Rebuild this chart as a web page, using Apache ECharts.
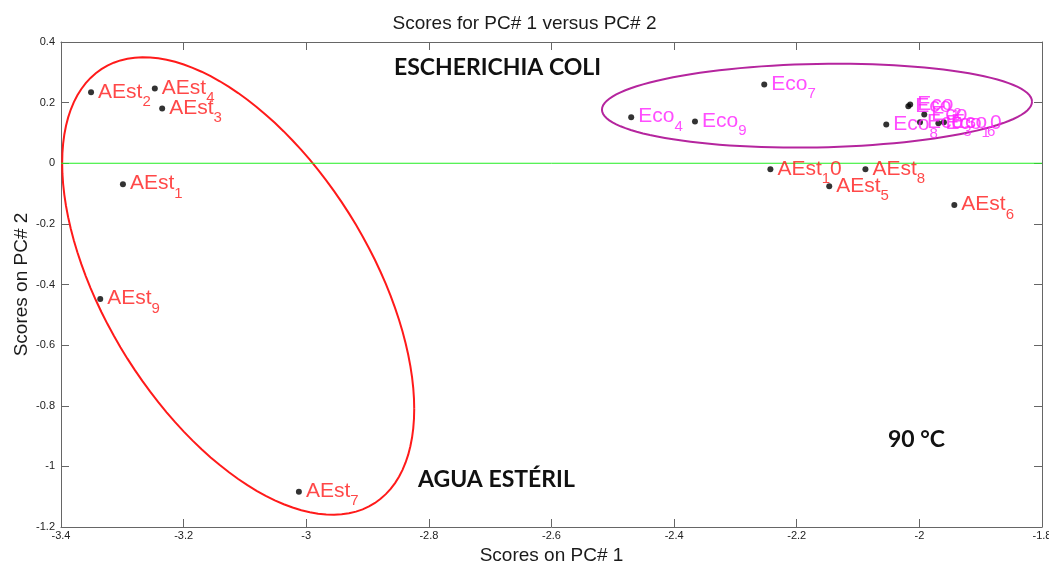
<!DOCTYPE html>
<html>
<head>
<meta charset="utf-8">
<script src="https://cdn.jsdelivr.net/npm/echarts@6/dist/echarts.min.js"></script>
<style>html,body{margin:0;padding:0;background:#fff}#c{width:1049px;height:567px}</style>
</head>
<body>
<div id="c"></div>
<script>
// ---- data ----
const aestSub = ['1','2','3','4','5','6','7','8','9','10'];
const aestX = [-3.299, -3.351, -3.235, -3.247, -2.147, -1.943, -3.012, -2.088, -3.336, -2.243];
const aestY = [-0.069, 0.234, 0.181, 0.247, -0.076, -0.138, -1.084, -0.020, -0.448, -0.020];
const ecoSub = ['1','2','3','4','5','6','7','8','9','10'];
const ecoX = [-2.018, -2.015, -1.999, -2.470, -1.992, -1.960, -2.253, -2.054, -2.366, -1.969];
const ecoY = [0.188, 0.194, 0.135, 0.152, 0.161, 0.135, 0.260, 0.128, 0.138, 0.132];
const zeroLineX = [-3.4, -1.8];
const zeroLineY = [0, 0];
const xTicks = [-3.4, -1.8, 0.2];   // min, max, step
const yTicks = [-1.2, 0.4, 0.2];

// annotation ellipses: centre + two conjugate semi-diameters, in data units
const redEllipse = {c: [-3.111, -0.405], u: [0.2871, -0.4053], v: [0, -0.6366]};
const purpleEllipse = {c: [-2.167, 0.190], u: [0.3507, 0.0132], v: [0, -0.1377]};

const chart = echarts.init(document.getElementById('c'));

function mk(xs, ys, subs) {
  return xs.map((x, i) => ({value: [x, ys[i]], sub: subs[i]}));
}
function labelFmt(base) {
  return p => {
    const s = p.data.sub;
    if (s.length > 1) return `{m|${base}}{s|${s[0]}}{m|${s.slice(1)}}`;
    return `{m|${base}}{s|${s}}`;
  };
}
function rich(color) {
  return {
    m: {fontSize: 21, fontFamily: 'Liberation Sans', color, lineHeight: 22, verticalAlign: 'top'},
    s: {fontSize: 15, fontFamily: 'Liberation Sans', color, lineHeight: 15, verticalAlign: 'top', padding: [13, 0, 0, 0]}
  };
}
function ellipseSeries(e, color) {
  return {
    type: 'custom',
    clip: false,
    silent: true,
    z: 1,
    data: [[e.c[0], e.c[1]]],
    renderItem: (params, api) => {
      const pts = [];
      const N = 120;
      for (let k = 0; k <= N; k++) {
        const t = 2 * Math.PI * k / N;
        const x = e.c[0] + e.u[0] * Math.cos(t) + e.v[0] * Math.sin(t);
        const y = e.c[1] + e.u[1] * Math.cos(t) + e.v[1] * Math.sin(t);
        pts.push(api.coord([x, y]));
      }
      return {type: 'polyline', shape: {points: pts}, style: {stroke: color, lineWidth: 2, fill: null}};
    }
  };
}

const axisFmt = v => String(+(+v).toFixed(1));
const commonX = {type: 'value', min: xTicks[0], max: xTicks[1], interval: xTicks[2]};
const commonY = {type: 'value', min: yTicks[0], max: yTicks[1], interval: yTicks[2]};
const lineStyleAxis = {color: '#666', width: 1};

chart.setOption({
  animation: false,
  backgroundColor: '#fff',
  title: {
    text: 'Scores for PC# 1 versus PC# 2',
    left: 'center', top: 9,
    textStyle: {fontFamily: 'Liberation Sans', fontSize: 19, fontWeight: 'normal', color: '#1a1a1a'}
  },
  grid: {left: 61, right: 7, top: 42, bottom: 40, outerBoundsMode: 'none', containLabel: false},
  xAxis: [
    Object.assign({}, commonX, {
      position: 'bottom',
      name: 'Scores on PC# 1', nameLocation: 'middle', nameGap: 19,
      nameTextStyle: {fontFamily: 'Liberation Sans', fontSize: 19, color: '#1a1a1a'},
      axisLine: {onZero: false, lineStyle: lineStyleAxis},
      axisTick: {inside: true, length: 8, lineStyle: lineStyleAxis},
      axisLabel: {formatter: axisFmt, fontFamily: 'Liberation Sans', fontSize: 11, color: '#222', margin: 3},
      splitLine: {show: false}
    }),
    Object.assign({}, commonX, {
      position: 'top',
      axisLine: {onZero: false, lineStyle: lineStyleAxis},
      axisTick: {inside: true, length: 8, lineStyle: lineStyleAxis},
      axisLabel: {show: false},
      splitLine: {show: false}
    })
  ],
  yAxis: [
    Object.assign({}, commonY, {
      position: 'left',
      name: 'Scores on PC# 2', nameLocation: 'middle', nameGap: 30, nameMoveOverlap: false,
      nameTextStyle: {fontFamily: 'Liberation Sans', fontSize: 19, color: '#1a1a1a'},
      axisLine: {show: true, onZero: false, lineStyle: lineStyleAxis},
      axisTick: {show: true, inside: true, length: 8, lineStyle: lineStyleAxis},
      axisLabel: {formatter: axisFmt, fontFamily: 'Liberation Sans', fontSize: 11, color: '#222', margin: 6},
      splitLine: {show: false}
    }),
    Object.assign({}, commonY, {
      position: 'right',
      axisLine: {show: true, onZero: false, lineStyle: lineStyleAxis},
      axisTick: {show: true, inside: true, length: 8, lineStyle: lineStyleAxis},
      axisLabel: {show: false},
      splitLine: {show: false}
    })
  ],
  series: [
    {
      type: 'line', silent: true, z: 1,
      data: zeroLineX.map((x, i) => [x, zeroLineY[i]]),
      symbol: 'none',
      lineStyle: {color: '#22ee22', width: 1},
      itemStyle: {color: '#22ee22'}
    },
    ellipseSeries(redEllipse, '#ff1a1a'),
    ellipseSeries(purpleEllipse, '#b5259e'),
    {
      type: 'scatter', name: 'AEst', z: 3,
      data: mk(aestX, aestY, aestSub),
      symbol: 'circle', symbolSize: 6,
      itemStyle: {color: '#000'},
      label: {show: true, position: 'right', distance: 4, formatter: labelFmt('AEst'), rich: rich('#ff1a1a')}
    },
    {
      type: 'scatter', name: 'Eco', z: 3,
      data: mk(ecoX, ecoY, ecoSub),
      symbol: 'circle', symbolSize: 6,
      itemStyle: {color: '#000'},
      label: {show: true, position: 'right', distance: 4, formatter: labelFmt('Eco'), rich: rich('#ff22ff')}
    }
  ],
  graphic: [
    {type: 'text', left: 394, top: 56, style: {text: 'ESCHERICHIA COLI', font: 'bold 23px Lato', fill: '#111'}},
    {type: 'text', left: 418, top: 468, style: {text: 'AGUA ESTÉRIL', font: 'bold 23px Lato', fill: '#111'}},
    {type: 'text', left: 888, top: 428, style: {text: '90 °C', font: 'bold 23px Lato', fill: '#111'}}
  ]
});
</script>
</body>
</html>
